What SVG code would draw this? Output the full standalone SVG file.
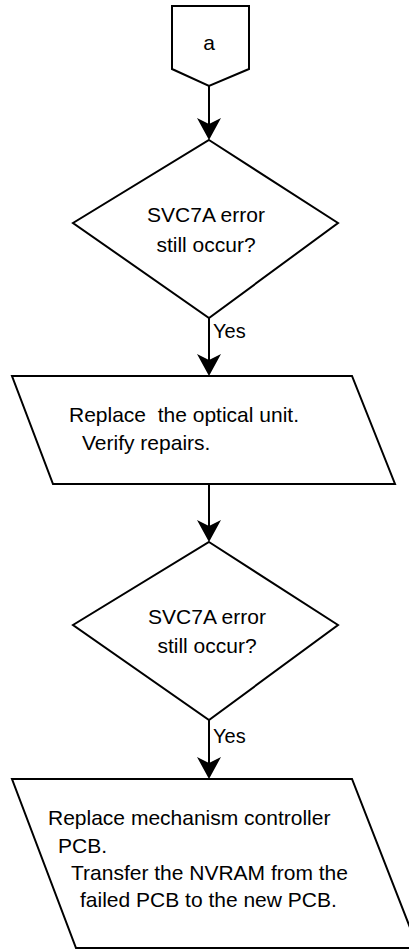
<svg xmlns="http://www.w3.org/2000/svg" width="409" height="949" viewBox="0 0 409 949">
<defs>
<style>
.shape{fill:#fff;stroke:#000;stroke-width:2;stroke-linejoin:miter}
.conn{stroke:#000;stroke-width:2;fill:none}
.t{font-family:"Liberation Sans",Arial,sans-serif;font-size:21px;fill:#000;white-space:pre}
.c{text-anchor:middle}
.lbl{font-family:"Liberation Sans",Arial,sans-serif;font-size:20px;fill:#000}
</style>
<marker id="ah" markerUnits="userSpaceOnUse" viewBox="0 -12 22 24" refX="14" refY="0" markerWidth="22" markerHeight="24" orient="auto">
<path d="M0,-12 L22,0 L0,12 L6,0 Z" fill="#000"/>
</marker>
</defs>
<rect width="409" height="949" fill="#fff"/>
<g id="connectors">
<line class="conn" x1="209" y1="85" x2="209" y2="132" marker-end="url(#ah)"/>
<line class="conn" x1="209" y1="318" x2="209" y2="368" marker-end="url(#ah)"/>
<line class="conn" x1="209" y1="484" x2="209" y2="534" marker-end="url(#ah)"/>
<line class="conn" x1="209" y1="720" x2="209" y2="771" marker-end="url(#ah)"/>
<text class="lbl" x="213" y="338">Yes</text>
<text class="lbl" x="213" y="743">Yes</text>
</g>
<g id="offpage_a">
<polygon class="shape" points="172,6 249,6 249,69 209,86 172,69"/>
<text class="t c" x="209" y="50">a</text>
</g>
<g id="decision1">
<polygon class="shape" points="209,140 338,223 209,318 73,223"/>
<text class="t c" x="206" y="222">SVC7A error</text>
<text class="t c" x="206" y="252">still occur?</text>
</g>
<g id="process1">
<polygon class="shape" points="12,376 352,376 395,484 53,484"/>
<text class="t" x="69" y="422">Replace  the optical unit.</text>
<text class="t" x="82" y="450">Verify repairs.</text>
</g>
<g id="decision2">
<polygon class="shape" points="209,542 338,625 209,720 73,625"/>
<text class="t c" x="207" y="624">SVC7A error</text>
<text class="t c" x="207" y="653">still occur?</text>
</g>
<g id="process2">
<polygon class="shape" points="12,779 352,779 418,948 76,948"/>
<text class="t" x="48" y="825">Replace mechanism controller</text>
<text class="t" x="58" y="853">PCB.</text>
<text class="t" x="71" y="880">Transfer the NVRAM from the</text>
<text class="t" x="80" y="907">failed PCB to the new PCB.</text>
</g>
</svg>
